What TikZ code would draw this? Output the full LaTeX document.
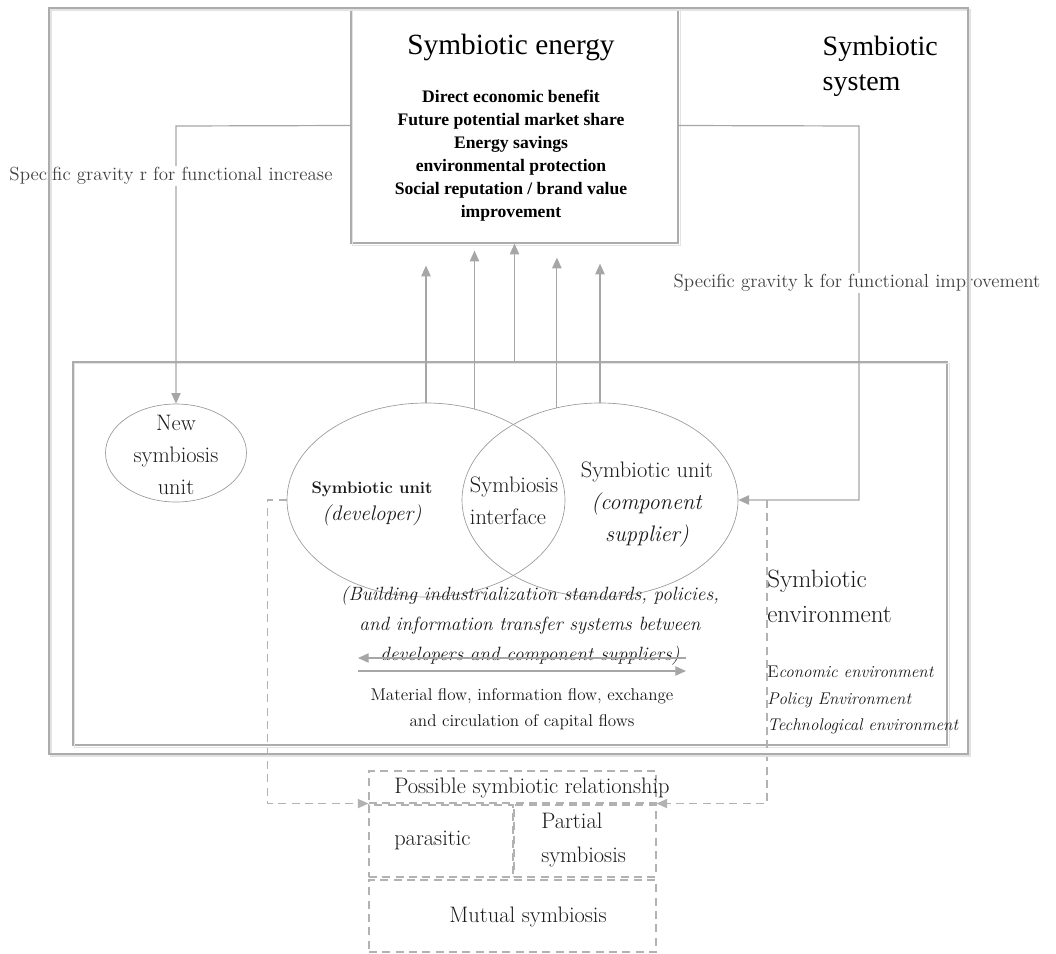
\documentclass[tikz,border=0pt]{standalone}
\usepackage{fontspec}
\newfontfamily\timesf{Liberation Serif}
\usetikzlibrary{positioning,arrows.meta,shapes.geometric}

\begin{document}
\begin{tikzpicture}[x=0.75pt,y=-0.75pt,
 frame/.style={draw=gray!65,line width=0.9pt},
 ghost/.style={draw=gray!22,line width=0.9pt},
 unit/.style={ellipse,draw=gray!80,line width=0.5pt,inner sep=0pt},
 link/.style={draw=gray!70,line width=0.9pt},
 arr/.style={link,-{Triangle[length=8pt,width=7pt]}},
 dasharr/.style={draw=gray!60,line width=0.8pt,dash pattern=on 6pt off 4pt,-{Triangle[length=8pt,width=7pt]}},
 relbox/.style={draw=gray!60,line width=0.8pt,dash pattern=on 6pt off 4pt,inner sep=0pt},
 grav/.style={fill=white,text=black!75,inner sep=1pt,font=\fontsize{14.2}{17}\selectfont},
 txt/.style={text=black!90,align=center,inner sep=0pt,font=\fontsize{16.8}{24}\selectfont}]
\useasboundingbox (0,0) rectangle (1056,953);
% symbiotic energy
\node[frame,minimum width=245.25pt,minimum height=176.25pt,inner sep=0pt] (energy) at (514.5,125.5) {};
\node[font=\timesf\fontsize{22}{26}\selectfont] (entitle) at (511,47) {Symbiotic energy};
\node[align=center,font=\timesf\bfseries\fontsize{13.2}{17.25}\selectfont] (enlist) at (511,156)
 {Direct economic benefit\\Future potential market share\\Energy savings\\environmental protection\\Social reputation / brand value\\improvement};
\node[anchor=west,align=left,font=\timesf\fontsize{21}{26}\selectfont] (systitle) at (818,66) {Symbiotic\\system};
% environment and units
\node[frame,minimum width=655.5pt,minimum height=287.25pt,inner sep=0pt] (env) at (510,553.5) {};
\node[unit,minimum width=105.75pt,minimum height=73.5pt] (newunit) at (176,453) {};
\node[unit,minimum width=208.5pt,minimum height=145.5pt] (dev) at (426,500) {};
\node[unit,minimum width=207pt,minimum height=145.5pt] (sup) at (600,500) {};
\draw[ghost] ([shift={(2,2)}]energy.south west) rectangle ([shift={(2,2)}]energy.north east);
\draw[ghost] ([shift={(2,2)}]env.south west) rectangle ([shift={(2,2)}]env.north east);
\node[txt] (newtxt) at (176,455) {New\\symbiosis\\unit};
\node[txt,font=\bfseries\fontsize{12.5}{20}\selectfont] (devtxt) at (372,504)
 {Symbiotic unit\\{\mdseries\itshape\fontsize{15.8}{20}\selectfont (developer)}};
\node[txt,align=left] (inttxt) at (514,501) {Symbiosis\\interface};
\node[txt] (suptxt) at (647,504) {Symbiotic unit\\\textit{(component}\\\textit{supplier)}};
\node[txt,font=\itshape\fontsize{14.4}{22.5}\selectfont] (stdtxt) at (530,626)
 {(Building industrialization standards, policies,\\and information transfer systems between\\developers and component suppliers)};
\node[txt,font=\fontsize{12.8}{20}\selectfont] (flowtxt) at (522,709)
 {Material flow, information flow, exchange\\and circulation of capital flows};
\node[txt,anchor=west,align=left,font=\fontsize{18.8}{26}\selectfont] (envtitle) at (767,596) {Symbiotic\\environment};
\node[txt,anchor=west,align=left,font=\itshape\fontsize{12.7}{20}\selectfont] (envlist) at (767,700)
 {{\upshape E}conomic environment\\Policy Environment\\Technological environment};
% relationships
\node[relbox,minimum width=215.25pt,minimum height=24pt] (rel) at (512.5,787) {};
\node[relbox,minimum width=108pt,minimum height=54pt] (para) at (441,841) {};
\node[relbox,minimum width=106.5pt,minimum height=54pt] (part) at (585,841) {};
\node[relbox,minimum width=215.25pt,minimum height=54pt] (mutual) at (512.5,916) {};
\node[txt,anchor=west] (reltxt) at (394,788) {Possible symbiotic relationship};
\node[txt,anchor=west] (paratxt) at (394,840) {parasitic};
\node[txt,anchor=west,align=left,font=\fontsize{16.8}{25.5}\selectfont] (parttxt) at (541,840) {Partial\\symbiosis};
\node[txt] (mutualtxt) at (528,917) {Mutual symbiosis};
% connectors
\coordinate (rbend) at (176,126);
\coordinate (kbend) at (859,126);
\coordinate (kjoin) at (767,500);
\coordinate (flowL) at (358,658);
\coordinate (flowR) at (686,671);
\draw[arr] (energy.west) -- (rbend) -- node[grav,pos=0.18,xshift=-3.75pt]{Specific gravity r for functional increase} (newunit.north);
\draw[arr] (energy.east) -- (kbend) -- node[grav,pos=0.42,xshift=-1.5pt]{Specific gravity k for functional improvement} (kbend |- sup.east) -- (sup.east);
\draw[arr,shorten >=16.5pt] (dev.north) -- (dev.north |- energy.south);
\draw[arr,shorten >=5.25pt] (dev.62) -- (dev.62 |- energy.south);
\draw[arr] (energy.south |- env.north) -- (energy.south);
\draw[arr,shorten >=10.5pt] (sup.115) -- (sup.115 |- energy.south);
\draw[arr,shorten >=15pt] (sup.north) -- (sup.north |- energy.south);
\draw[arr] (flowL -| flowR) -- (flowL);
\draw[arr] (flowL |- flowR) -- (flowR);
\draw[dasharr] (dev.west) -- ++(-19,0) |- (rel.south west);
\draw[dasharr] (kjoin) |- (rel.south east);
% symbiotic system
\draw[ghost] (51,10) rectangle (970,756);
\draw[frame] (49,8) rectangle (968,754);
\end{tikzpicture}
\end{document}
